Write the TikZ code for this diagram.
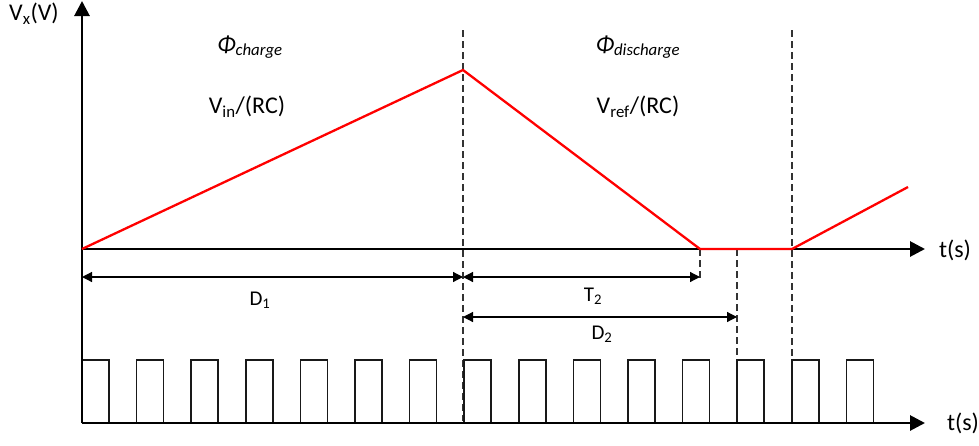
\documentclass[tikz,border=0pt]{standalone}
\usepackage{fontspec}
\setmainfont{Carlito}
\usetikzlibrary{arrows.meta}
\begin{document}
\begin{tikzpicture}[x=1pt,y=-1pt,
  axis/.style={line width=2.8pt,-{Triangle[length=15pt,width=15pt]}},
  wave/.style={red,line width=2.3pt,line join=miter},
  guide/.style={line width=1.2pt,dash pattern=on 7pt off 4pt,black!80},
  dim/.style={line width=1.2pt,{Triangle[length=10pt,width=10pt]}-{Triangle[length=10pt,width=10pt]}},
  pulse/.style={line width=1.5pt,black!90},
  big/.style={font=\fontsize{24}{28}\selectfont,inner sep=0pt},
  small/.style={font=\fontsize{21}{25}\selectfont,inner sep=0pt}]
\useasboundingbox (0,0) rectangle (979,445);
% coordinates
\coordinate (o) at (82,249);
\coordinate (ytop) at (82,1);
\coordinate (ybot) at (82,423);
\coordinate (xend) at (925,249);
\coordinate (x2start) at (82,423);
\coordinate (x2end) at (925,423);
\coordinate (peak) at (463,70);
\coordinate (z1) at (700,249);
\coordinate (z2) at (792,249);
\coordinate (rise) at (908,187);
% guides
\coordinate (g1t) at (463,30); \coordinate (g1b) at (463,421);
\coordinate (g2t) at (700,249); \coordinate (g2b) at (700,278);
\coordinate (g3t) at (737,249); \coordinate (g3b) at (737,383);
\coordinate (g4t) at (792,30); \coordinate (g4b) at (792,360);
\draw[guide] (g1t) -- (g1b);
\draw[guide] (g2t) -- (g2b);
\draw[guide] (g3t) -- (g3b);
\draw[guide] (g4t) -- (g4b);
% pulses
\foreach \i in {0,...,14}{
  \pgfmathsetmacro{\xa}{82+54.6*\i}
  \pgfmathsetmacro{\xb}{\xa+27}
  \draw[pulse] (\xa,423) -- (\xa,360) -- (\xb,360) -- (\xb,423);
}
% axes
\draw[axis] (ybot) -- (ytop);
\draw[axis] (o) -- (xend);
\draw[axis] (x2start) -- (x2end);
% waveform
\draw[wave] (o) -- (peak) -- (z1) -- (z2) -- (rise);
% dimension lines
\coordinate (d1a) at (82,277); \coordinate (d1b) at (463,277);
\coordinate (t2a) at (463,277); \coordinate (t2b) at (700,277);
\coordinate (d2a) at (463,317); \coordinate (d2b) at (737,317);
\draw[dim] (d1a) -- (d1b);
\draw[dim] (t2a) -- (t2b);
\draw[dim] (d2a) -- (d2b);
% labels
\node[big] (vx) at (34,14) {V\textsubscript{x}(V)};
\node[big] (t1) at (955,250) {t(s)};
\node[big] (t2lab) at (963,423) {t(s)};
\node[big] (phic) at (250,47) {\itshape Φ\textsubscript{charge}};
\node[big] (vin) at (247,107) {V\textsubscript{in}/(RC)};
\node[big] (phid) at (638,47) {\itshape Φ\textsubscript{discharge}};
\node[big] (vref) at (638,107) {V\textsubscript{ref}/(RC)};
\node[small] (D1) at (260,300) {D\textsubscript{1}};
\node[small] (T2) at (593,296) {T\textsubscript{2}};
\node[small] (D2) at (602,334) {D\textsubscript{2}};
\end{tikzpicture}
\end{document}
